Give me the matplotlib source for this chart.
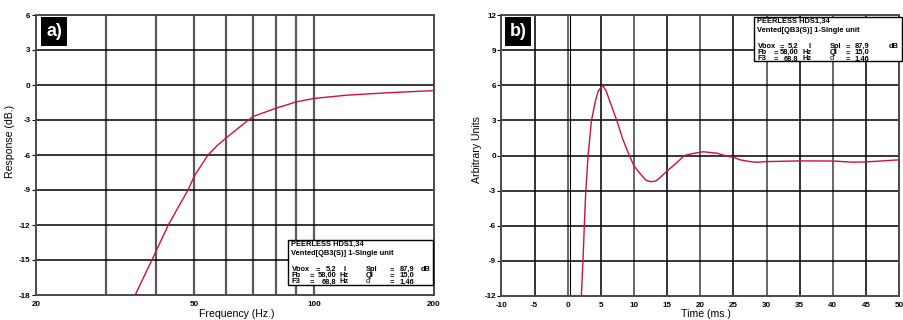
import matplotlib
matplotlib.use("Agg")
import matplotlib.pyplot as plt

plt.rcParams['font.family'] = ['Liberation Sans', 'DejaVu Sans']

# ---- data: a) frequency response ----
freq_hz = [35.5, 39.1, 43.0, 45.5, 48.2, 50.0, 54.1, 57.0, 60.0, 65.0, 70.0, 75.0, 80.0, 85.0, 90.0,
           100.0, 120.0, 150.0, 200.0]
resp_db = [-18.0, -15.0, -12.0, -10.5, -9.0, -7.8, -6.0, -5.2, -4.55, -3.6, -2.72, -2.35, -2.0, -1.72,
           -1.45, -1.15, -0.88, -0.68, -0.48]

freq_grid = [20, 30, 40, 50, 60, 70, 80, 90, 100, 200]
freq_labels = ['20', '', '', '50', '', '', '', '', '100', '200']
db_ticks = [-18, -15, -12, -9, -6, -3, 0, 3, 6]

# ---- data: b) impulse response ----
time_ms = [2.05, 2.3, 2.5, 2.7, 3.07, 3.58, 4.2, 4.6, 5.25, 5.8, 6.5, 7.4, 8.3, 9.3, 10.0, 10.8,
           11.8, 12.5, 13.3, 14.0, 15.0, 16.3, 17.6, 18.9, 20.4, 22.5, 24.0, 25.0, 26.0, 27.5,
           28.5, 30.0, 35.0, 40.0, 43.0, 45.0, 50.0]
amp = [-12.0, -9.0, -6.0, -3.3, 0.0, 3.0, 4.7, 5.5, 6.0, 5.5, 4.4, 3.0, 1.4, 0.0, -0.89, -1.47,
       -2.1, -2.24, -2.18, -1.85, -1.32, -0.69, 0.0, 0.17, 0.32, 0.2, -0.05, -0.15, -0.37, -0.52,
       -0.58, -0.52, -0.46, -0.47, -0.57, -0.55, -0.37]
time_ticks = list(range(-10, 55, 5))
amp_ticks = [-12, -9, -6, -3, 0, 3, 6, 9, 12]

info_title = ["PEERLESS HDS1,34", "Vented[QB3(S)] 1-Single unit"]
info_rows = [("Vbox", "=", "5,2", "l", "Spl", "=", "87,9", "dB"),
             ("Fb", "=", "58,00", "Hz", "Ql", "=", "15,0", ""),
             ("F3", "=", "68,8", "Hz", "\u03b1", "=", "1,46", "")]

W, H = 904, 320
fig = plt.figure(figsize=(W / 100, H / 100), dpi=100)


def fx(px):
    return px / W


def fy(py):
    return 1 - py / H


curve_color = '#cc1040'
vgrid_color = '#5a5a5a'
spine_color = '#4a4a4a'
tick_fs = 5.8
label_fs = 7.6
info_fs = 5.4


def style_axes(ax):
    for s in ax.spines.values():
        s.set_color(spine_color)
        s.set_linewidth(1.4)
    ax.tick_params(axis='y', length=3, width=0.8, pad=1, labelsize=tick_fs, color='black')
    ax.tick_params(axis='x', length=0, pad=4, labelsize=tick_fs)
    for lab in ax.get_xticklabels() + ax.get_yticklabels():
        lab.set_fontweight('bold')


def tag(text, x0, y0):
    fig.patches.append(plt.Rectangle((fx(x0), fy(y0 + 29)), 26 / W, 29 / H,
                                     transform=fig.transFigure, facecolor='black',
                                     edgecolor='none', zorder=5))
    fig.text(fx(x0 + 13), fy(y0 + 14.5), text, color='white', fontsize=13,
             fontweight='bold', ha='center', va='center', zorder=6)


def info_box(x0, y0, x1, y1, eq1, val_r, unit_x, c2):
    """eq1/unit_x: per-row offsets; c2: offsets of second label, '=', value, unit."""
    fig.patches.append(plt.Rectangle((fx(x0), fy(y1)), (x1 - x0) / W, (y1 - y0) / H,
                                     transform=fig.transFigure, facecolor='white',
                                     edgecolor='black', linewidth=1.0, zorder=5,
                                     clip_on=False))
    tx = x0 + 3.5
    kw = dict(fontsize=info_fs, fontweight='bold', va='center', zorder=6)
    fig.text(fx(tx), fy(y0 + 4.5), info_title[0], ha='left', **kw)
    fig.text(fx(tx), fy(y0 + 13.5), info_title[1], ha='left', **kw)
    for i, row in enumerate(info_rows):
        yy = fy(y0 + 29.5 + i * 6.2)
        xs = [3.5, eq1[i], val_r, unit_x[i]] + list(c2)
        for j, t in enumerate(row):
            if not t:
                continue
            ha = 'right' if j == 2 else 'left'
            k = dict(kw)
            if t == '\u03b1':
                k['fontweight'] = 'normal'
            fig.text(fx(x0 + xs[j]), yy, t, ha=ha, **k)


# ================= a) =================
axL = fig.add_axes([fx(36), fy(295), fx(434 - 36), (295 - 15) / H])
axL.set_xscale('log')
axL.set_xlim(20, 200)
axL.set_ylim(-18, 6)
axL.set_xticks(freq_grid)
axL.set_xticklabels(freq_labels)
axL.minorticks_off()
axL.set_yticks(db_ticks)
axL.set_yticklabels([str(v) for v in db_ticks])
for f in freq_grid[1:-1]:
    axL.axvline(f, color=vgrid_color, lw=1.6, zorder=1)
for d in db_ticks[1:-1]:
    axL.axhline(d, color='black', lw=1.1, zorder=1)
axL.plot(freq_hz, resp_db, color=curve_color, lw=1.0, zorder=3)
style_axes(axL)
axL.set_ylabel('Response (dB.)', fontsize=label_fs)
axL.yaxis.set_label_coords(-0.053, 0.55)
fig.text(fx(237), fy(314), 'Frequency (Hz.)', fontsize=label_fs, ha='center', va='center')

tag('a)', 41, 17)
info_box(288, 240, 433, 285, eq1=[28, 22, 22], val_r=48, unit_x=[56, 52, 52],
         c2=[78, 102, 111.5, 133])

# ================= b) =================
axR = fig.add_axes([fx(501.5), fy(296), fx(899 - 501.5), (296 - 15) / H])
axR.set_xlim(-10, 50)
axR.set_ylim(-12, 12)
axR.set_xticks(time_ticks)
axR.set_xticklabels([str(v) for v in time_ticks])
axR.set_yticks(amp_ticks)
axR.set_yticklabels([str(v) for v in amp_ticks])
for t in time_ticks[1:-1]:
    axR.axvline(t, color=vgrid_color if t % 10 == 0 else '#222222', lw=1.3, zorder=1)
axR.axvline(0.3, color='black', lw=0.8, zorder=1)
for a in amp_ticks[1:-1]:
    axR.axhline(a, color='black', lw=1.1, zorder=1)
axR.plot(time_ms, amp, color=curve_color, lw=1.0, zorder=3)
style_axes(axR)
axR.set_ylabel('Arbitrary Units', fontsize=label_fs)
axR.yaxis.set_label_coords(-0.05, 0.52)
fig.text(fx(706), fy(314), 'Time (ms.)', fontsize=label_fs, ha='center', va='center')

tag('b)', 505, 17)
info_box(754, 17, 902, 61, eq1=[26, 20, 20], val_r=44, unit_x=[55, 49, 49],
         c2=[76, 92, 101, 135])

fig.savefig('out.png', dpi=100)
